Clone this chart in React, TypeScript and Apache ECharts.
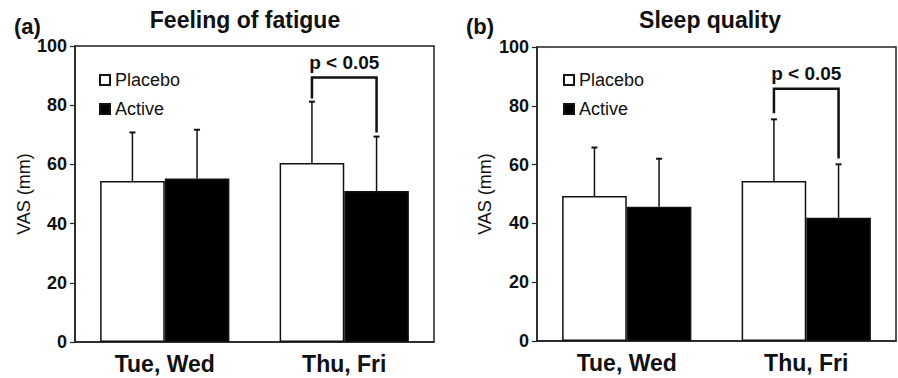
import React, { useEffect, useRef } from "react";
import * as echarts from "echarts";

const categories = ["Tue, Wed", "Thu, Fri"];
const yTicks = [0, 20, 40, 60, 80, 100];

// Panel (a) Feeling of fatigue
const fatiguePlacebo = [54.4, 60.5];
const fatigueActive = [55.2, 51.0];
const fatiguePlaceboSD = [16.4, 20.7];
const fatigueActiveSD = [16.5, 18.4];
// bracket: [category index, top, left leg bottom, right leg bottom]
const fatigueBracket = [1, 89.4, 82.3, 70.8];

// Panel (b) Sleep quality
const sleepPlacebo = [49.3, 54.4];
const sleepActive = [45.7, 41.9];
const sleepPlaceboSD = [16.5, 21.0];
const sleepActiveSD = [16.3, 18.2];
const sleepBracket = [1, 85.8, 77.5, 62.1];

const pLabel = "p < 0.05";
const FONT = "'Liberation Sans', Arial, Helvetica, sans-serif";
const INK = "#111";
const GAP = 0.28;
const HALF = (1 - GAP) / 4; // offset of each bar centre from category centre (fraction of band)

function errData(p: number[], pSD: number[], a: number[], aSD: number[]) {
  const out: number[][] = [];
  p.forEach((v, i) => out.push([i, v, v + pSD[i], -1]));
  a.forEach((v, i) => out.push([i, v, v + aSD[i], 1]));
  return out;
}

const errRender = (params: any, api: any) => {
  const idx = api.value(0);
  const mean = api.value(1);
  const up = api.value(2);
  const side = api.value(3);
  const bw = api.size([1, 0])[0];
  const p1 = api.coord([idx, mean]);
  const p2 = api.coord([idx, up]);
  const x = p1[0] + side * bw * HALF;
  return {
    type: "group",
    children: [
      { type: "line", shape: { x1: x, y1: p1[1], x2: x, y2: p2[1] }, style: { stroke: INK, lineWidth: 1.5 } },
      { type: "line", shape: { x1: x - 3, y1: p2[1], x2: x + 3, y2: p2[1] }, style: { stroke: INK, lineWidth: 2 } },
    ],
  };
};

const bracketRender = (params: any, api: any) => {
  const idx = api.value(0);
  const top = api.value(1);
  const lb = api.value(2);
  const rb = api.value(3);
  const bw = api.size([1, 0])[0];
  const c = api.coord([idx, top]);
  const xl = c[0] - bw * HALF;
  const xr = c[0] + bw * HALF;
  const yl = api.coord([idx, lb])[1];
  const yr = api.coord([idx, rb])[1];
  return {
    type: "group",
    children: [
      {
        type: "polyline",
        shape: { points: [[xl, yl], [xl, c[1]], [xr, c[1]], [xr, yr]] },
        style: { stroke: INK, lineWidth: 2.5, fill: "none" },
      },
      {
        type: "text",
        x: c[0],
        y: c[1] - 15,
        style: {
          text: pLabel,
          fill: INK,
          font: `bold 19px ${FONT}`,
          textAlign: "center",
          textVerticalAlign: "middle",
        },
      },
    ],
  };
};

export default function App() {
  const ref = useRef<HTMLDivElement>(null);
  useEffect(() => {
    if (!ref.current) return;
    const chart = echarts.init(ref.current, undefined, { renderer: "svg" });
    const yAxisBase = (gridIndex: number) => ({
      type: "value",
      gridIndex,
      min: 0,
      max: 100,
      interval: 20,
      name: "VAS (mm)",
      nameLocation: "middle",
      nameGap: 42,
      nameRotate: 90,
      nameTextStyle: { fontFamily: FONT, fontSize: 18, color: INK },
      axisLine: { show: true, lineStyle: { color: "#222", width: 1.5 } },
      axisTick: { show: true, inside: false, length: 5, lineStyle: { color: "#222", width: 1.2 } },
      axisLabel: { fontFamily: FONT, fontSize: 18, fontWeight: "bold", color: INK, margin: 8 },
      splitLine: { show: false },
    });
    const xAxisBase = (gridIndex: number) => ({
      type: "category",
      gridIndex,
      data: categories,
      axisLine: { show: true, lineStyle: { color: "#222", width: 1.5 } },
      axisTick: { show: false },
      axisLabel: { fontFamily: FONT, fontSize: 23, fontWeight: "bold", color: INK, margin: 10 },
    });
    const placeboStyle = { color: "#fff", borderColor: INK, borderWidth: 1.5 };
    const activeStyle = { color: "#000", borderColor: INK, borderWidth: 1.5 };
    const legendBase = (left: number) => ({
      data: ["Placebo", "Active"],
      orient: "vertical",
      left,
      top: 66,
      icon: "rect",
      itemWidth: 10,
      itemHeight: 10,
      itemGap: 11,
      textStyle: { fontFamily: FONT, fontSize: 18, color: INK },
      selectedMode: false,
    });
    chart.setOption({
      animation: false,
      grid: [
        { left: 75, right: 464, top: 46, bottom: 36, show: true, borderColor: "#222", borderWidth: 1.5 },
        { left: 537, right: 2, top: 47, bottom: 37, show: true, borderColor: "#222", borderWidth: 1.5 },
      ],
      xAxis: [xAxisBase(0), xAxisBase(1)],
      yAxis: [yAxisBase(0), { ...yAxisBase(1), nameGap: 43 }],
      legend: [legendBase(94), legendBase(558)],
      graphic: [
        { type: "text", x: 245, y: 20, style: { text: "Feeling of fatigue", font: `bold 23px ${FONT}`, fill: INK, textAlign: "center", textVerticalAlign: "middle" } },
        { type: "text", x: 710, y: 20, style: { text: "Sleep quality", font: `bold 23px ${FONT}`, fill: INK, textAlign: "center", textVerticalAlign: "middle" } },
        { type: "text", x: 14, y: 26, style: { text: "(a)", font: `bold 22px ${FONT}`, fill: INK, textAlign: "left", textVerticalAlign: "middle" } },
        { type: "text", x: 466, y: 26, style: { text: "(b)", font: `bold 22px ${FONT}`, fill: INK, textAlign: "left", textVerticalAlign: "middle" } },
      ],
      series: [
        { name: "Placebo", type: "bar", xAxisIndex: 0, yAxisIndex: 0, data: fatiguePlacebo, itemStyle: placeboStyle, barGap: "0%", barCategoryGap: "28%" },
        { name: "Active", type: "bar", xAxisIndex: 0, yAxisIndex: 0, data: fatigueActive, itemStyle: activeStyle, barGap: "0%", barCategoryGap: "28%" },
        { name: "Placebo", type: "bar", xAxisIndex: 1, yAxisIndex: 1, data: sleepPlacebo, itemStyle: placeboStyle, barGap: "0%", barCategoryGap: "28%" },
        { name: "Active", type: "bar", xAxisIndex: 1, yAxisIndex: 1, data: sleepActive, itemStyle: activeStyle, barGap: "0%", barCategoryGap: "28%" },
        { type: "custom", xAxisIndex: 0, yAxisIndex: 0, renderItem: errRender, data: errData(fatiguePlacebo, fatiguePlaceboSD, fatigueActive, fatigueActiveSD), encode: { x: 0, y: [1, 2] }, z: 5 },
        { type: "custom", xAxisIndex: 1, yAxisIndex: 1, renderItem: errRender, data: errData(sleepPlacebo, sleepPlaceboSD, sleepActive, sleepActiveSD), encode: { x: 0, y: [1, 2] }, z: 5 },
        { type: "custom", xAxisIndex: 0, yAxisIndex: 0, renderItem: bracketRender, data: [fatigueBracket], encode: { x: 0, y: [1, 2, 3] }, z: 6 },
        { type: "custom", xAxisIndex: 1, yAxisIndex: 1, renderItem: bracketRender, data: [sleepBracket], encode: { x: 0, y: [1, 2, 3] }, z: 6 },
      ],
    });
    return () => chart.dispose();
  }, []);
  return (
    <div
      ref={ref}
      style={{ position: "fixed", left: 0, top: 0, width: 898, height: 378, background: "#fff" }}
    />
  );
}
